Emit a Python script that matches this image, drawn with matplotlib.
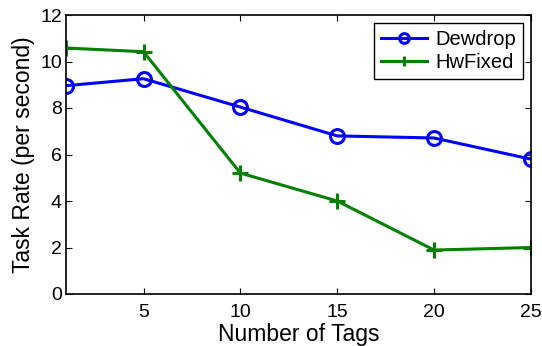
import matplotlib
matplotlib.use("Agg")
import matplotlib.pyplot as plt

tags = [1, 5, 10, 15, 20, 25]
dewdrop = [8.96, 9.26, 8.04, 6.8, 6.71, 5.8]
hwfixed = [10.58, 10.42, 5.2, 4.0, 1.89, 2.0]
xticks = [5, 10, 15, 20, 25]
yticks = [0, 2, 4, 6, 8, 10, 12]

plt.rcParams['font.family'] = ['Liberation Sans', 'DejaVu Sans']
fig = plt.figure(figsize=(5.42, 3.46), dpi=100)
ax = fig.add_axes([66/542, 1-294/346, (531-66)/542, (294-15)/346])
ax.plot(tags, dewdrop, color='#0000ff', lw=2.2, marker='o', ms=10, mfc='none', mew=2.2, label='Dewdrop')
ax.plot(tags, hwfixed, color='#008000', lw=2.2, marker='+', ms=11, mew=2.2, label='HwFixed')
ax.set_xlim(1, 25)
ax.set_ylim(0, 12)
ax.set_xticks(xticks)
ax.tick_params(direction='in', labelsize=14, length=4, top=True, right=True, width=0.8)
ax.set_yticks(yticks)
ax.tick_params(axis='x', pad=7)
ax.tick_params(axis='y', pad=3)
for s in ax.spines.values():
    s.set_linewidth(1.2)
ax.set_xlabel('Number of Tags', fontsize=16.5, labelpad=2)
ax.set_ylabel('Task Rate (per second)', fontsize=16.5, labelpad=4)
leg = ax.legend(loc='upper right', fontsize=14.5, fancybox=False, edgecolor='black',
                framealpha=1, handlelength=2.3, handletextpad=0.4, borderpad=0.35,
                labelspacing=0.2, markerscale=0.7, borderaxespad=0,
                bbox_to_anchor=((523-66)/465, (294-23)/279))
leg.get_frame().set_linewidth(1.0)
fig.savefig('out.png', dpi=100)
